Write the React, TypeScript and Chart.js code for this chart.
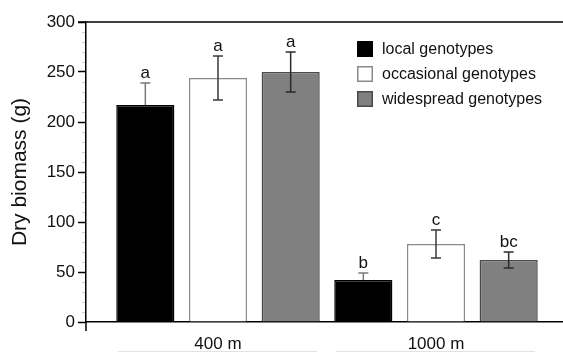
import React, { useEffect, useRef } from "react";
import { Chart, registerables } from "chart.js";

Chart.register(...registerables);

const categories = ["400 m", "1000 m"];
const localValues = [217, 42];
const localErrors = [22, 7];
const occasionalValues = [244, 78];
const occasionalErrors = [22, 14];
const widespreadValues = [250, 62];
const widespreadErrors = [20, 8];
const localLetters = ["a", "b"];
const occasionalLetters = ["a", "c"];
const widespreadLetters = ["a", "bc"];
const seriesNames = ["local genotypes", "occasional genotypes", "widespread genotypes"];
const yTicks = [0, 50, 100, 150, 200, 250, 300];

const FONT = "'Liberation Sans', Arial, Helvetica, sans-serif";

const fills = ["#000000", "#ffffff", "#808080"];
const borders = ["#000000", "#8a8a8a", "#4a4a4a"];
const whiskerColors = ["#7a7a7a", "#3a3a3a", "#2a2a2a"];
const errorsBySeries = [localErrors, occasionalErrors, widespreadErrors];
const lettersBySeries = [localLetters, occasionalLetters, widespreadLetters];

const decorPlugin = {
  id: "decor",
  afterDatasetsDraw(chart: any) {
    const ctx = chart.ctx;
    const area = chart.chartArea;
    const y = chart.scales.y;
    const x = chart.scales.x;
    ctx.save();
    for (let d = 0; d < 3; d++) {
      const meta = chart.getDatasetMeta(d);
      const vals = chart.data.datasets[d].data as any[];
      meta.data.forEach((bar: any, i: number) => {
        const v = vals[i].y;
        const e = errorsBySeries[d][i];
        const px = bar.x;
        const top = y.getPixelForValue(v + e);
        const mid = y.getPixelForValue(v);
        const bot = y.getPixelForValue(v - e);
        ctx.strokeStyle = whiskerColors[d];
        ctx.lineWidth = 1.5;
        ctx.beginPath();
        ctx.moveTo(px, top);
        ctx.lineTo(px, d === 0 ? mid : bot);
        ctx.moveTo(px - 5, top);
        ctx.lineTo(px + 5, top);
        if (d !== 0) {
          ctx.moveTo(px - 5, bot);
          ctx.lineTo(px + 5, bot);
        }
        ctx.stroke();
        ctx.fillStyle = "#111";
        ctx.font = `17px ${FONT}`;
        ctx.textAlign = "center";
        ctx.textBaseline = "alphabetic";
        ctx.fillText(lettersBySeries[d][i], px, top - 5);
      });
    }
    ctx.strokeStyle = "#000";
    ctx.lineWidth = 1.5;
    ctx.beginPath();
    ctx.moveTo(area.left - 8, area.top);
    ctx.lineTo(area.right, area.top);
    ctx.stroke();
    ctx.beginPath();
    ctx.moveTo(area.left, area.bottom);
    ctx.lineTo(area.left, area.bottom + 9);
    ctx.stroke();
    ctx.strokeStyle = "#cfcfcf";
    ctx.lineWidth = 1;
    for (let v = 10; v < 300; v += 10) {
      if (v % 50 === 0) continue;
      const py = Math.round(y.getPixelForValue(v)) + 0.5;
      ctx.beginPath();
      ctx.moveTo(area.left - 4, py);
      ctx.lineTo(area.left - 1, py);
      ctx.stroke();
    }
    ctx.strokeStyle = "#e2e2e2";
    ctx.lineWidth = 1;
    categories.forEach((_c, i) => {
      const cx = x.getPixelForValue(i);
      ctx.beginPath();
      ctx.moveTo(cx - 100, 351.5);
      ctx.lineTo(cx + 99, 351.5);
      ctx.stroke();
    });
    const rows = [49, 74, 99];
    seriesNames.forEach((name, i) => {
      const cy = rows[i];
      ctx.fillStyle = fills[i];
      ctx.fillRect(357, cy - 8, 16, 16);
      ctx.strokeStyle = borders[i];
      ctx.lineWidth = 1.5;
      ctx.strokeRect(357.75, cy - 7.25, 14.5, 14.5);
      ctx.fillStyle = "#111";
      ctx.font = `16px ${FONT}`;
      ctx.textAlign = "left";
      ctx.textBaseline = "middle";
      ctx.fillText(name, 382, cy + 1);
    });
    ctx.restore();
  },
};

export default function App() {
  const ref = useRef<HTMLCanvasElement | null>(null);
  useEffect(() => {
    if (!ref.current) return;
    const mk = (vals: number[]) => vals.map((v, i) => ({ x: i, y: v }));
    const valuesBySeries = [localValues, occasionalValues, widespreadValues];
    const chart = new Chart(ref.current, {
      type: "bar",
      data: {
        datasets: seriesNames.map((name, i) => ({
          label: name,
          data: mk(valuesBySeries[i]) as any,
          backgroundColor: fills[i],
          borderColor: borders[i],
          borderWidth: 1.5,
          categoryPercentage: 1.0,
          barPercentage: 0.8,
        })),
      },
      options: {
        animation: false,
        responsive: false,
        events: [],
        layout: { padding: { top: 22, right: 0, bottom: 0, left: 0 } },
        plugins: { legend: { display: false }, tooltip: { enabled: false } },
        scales: {
          x: {
            type: "linear",
            min: -0.6055,
            max: 1.5826,
            offset: false,
            bounds: "data",
            grid: { display: false, offset: false },
            border: { display: true, color: "#000", width: 1.5 },
            afterBuildTicks: (s: any) => {
              s.ticks = categories.map((_c, i) => ({ value: i }));
            },
            afterFit: (s: any) => {
              s.height = 32;
            },
            ticks: {
              color: "#111",
              font: { family: FONT, size: 17 },
              padding: 4,
              maxRotation: 0,
              autoSkip: false,
              callback: (v: any) => categories[v as number] ?? "",
            },
          },
          y: {
            min: 0,
            max: 300,
            afterBuildTicks: (s: any) => {
              s.ticks = yTicks.map((v) => ({ value: v }));
            },
            afterFit: (s: any) => {
              s.width = 86;
            },
            grid: {
              drawOnChartArea: false,
              drawTicks: true,
              tickLength: 8,
              tickColor: "#000",
              tickWidth: 1.5,
            },
            border: { display: true, color: "#000", width: 1.5 },
            ticks: {
              color: "#111",
              font: { family: FONT, size: 17 },
              padding: 3,
            },
            title: {
              display: true,
              text: "Dry biomass (g)",
              color: "#111",
              font: { family: FONT, size: 21 },
              padding: { top: 8, bottom: 0 },
            },
          },
        },
      },
      plugins: [decorPlugin],
    });
    return () => chart.destroy();
  }, []);
  return (
    <div style={{ position: "fixed", left: 0, top: 0, width: 563, height: 354, background: "#fff" }}>
      <canvas ref={ref} width={563} height={354} style={{ display: "block" }} />
    </div>
  );
}
